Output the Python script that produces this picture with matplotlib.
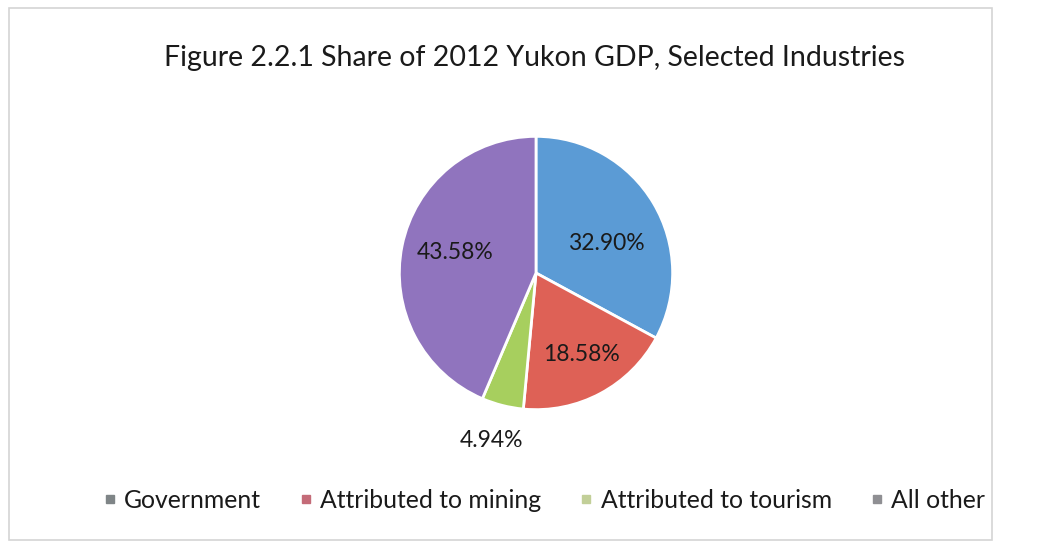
import matplotlib.pyplot as plt
from matplotlib.lines import Line2D
from matplotlib.patches import Rectangle

plt.rcParams["font.family"] = ["Lato", "DejaVu Sans"]

# 2012 Yukon GDP shares by industry group
industries = ["Government", "Attributed to mining", "Attributed to tourism", "All other"]
shares = [32.90, 18.58, 4.94, 43.58]

slice_colors = ["#5B9BD5", "#DE6156", "#A7CF5E", "#9074BE"]
legend_colors = ["#7F8587", "#C46B78", "#C2CF98", "#8F8F93"]

# where each percentage sits, relative to pie centre (radius = 1)
label_offsets = [(0.514, 0.217), (0.333, -0.594), (-0.326, -1.225), (-0.594, 0.152)]

W, H = 1052, 543
fig = plt.figure(figsize=(W / 100, H / 100), dpi=100)
fig.patch.set_facecolor("white")

# light frame round the chart area
fig.patches.append(
    Rectangle((9 / W, 1 - 540 / H), 983 / W, 532 / H, transform=fig.transFigure,
              fill=False, edgecolor="#d4d4d4", linewidth=1.2)
)

fig.text(535 / W, 1 - 58 / H, "Figure 2.2.1 Share of 2012 Yukon GDP, Selected Industries",
         ha="center", va="center", fontsize=20.5, color="#1a1a1a")

cx, cy, r = 536, 273, 138
ax = fig.add_axes([(cx - r) / W, (H - cy - r) / H, 2 * r / W, 2 * r / H])
wedges, _, autotexts = ax.pie(
    shares, colors=slice_colors, startangle=90, counterclock=False,
    autopct="%.2f%%", pctdistance=0.6,
    wedgeprops=dict(edgecolor="white", linewidth=2),
    textprops=dict(fontsize=16.5, color="#1a1a1a"),
)
for t, (dx, dy) in zip(autotexts, label_offsets):
    t.set_position((dx, dy))
ax.set_xlim(-1.01, 1.01)
ax.set_ylim(-1.01, 1.01)
ax.set_aspect("equal")
ax.axis("off")

handles = [Line2D([], [], marker="s", linestyle="none", markersize=6,
                  markerfacecolor=c, markeredgecolor=c) for c in legend_colors]
fig.legend(handles, industries, loc="center", bbox_to_anchor=(544 / W, 1 - 500 / H),
           ncol=4, frameon=False, fontsize=17.8, handlelength=0.55, handletextpad=0.3,
           columnspacing=1.55, labelcolor="#1a1a1a")

fig.savefig("out.png", dpi=100)
